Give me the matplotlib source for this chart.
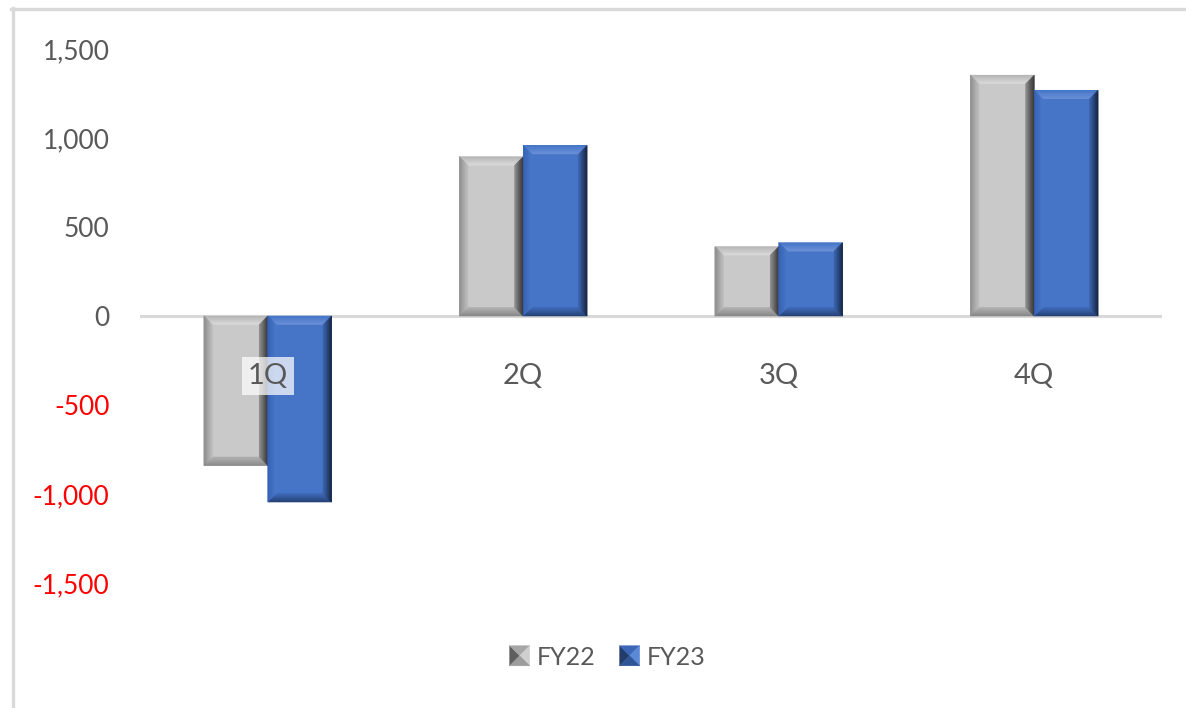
import matplotlib
matplotlib.use("Agg")
import matplotlib.pyplot as plt
from matplotlib.patches import Polygon
from matplotlib.transforms import IdentityTransform
from matplotlib.legend_handler import HandlerBase
from matplotlib.lines import Line2D
import numpy as np
from matplotlib.colors import to_rgb

# ---- data ----
quarters = ["1Q", "2Q", "3Q", "4Q"]
fy22 = [-840, 895, 390, 1353]
fy23 = [-1045, 958, 412, 1268]
series_names = ["FY22", "FY23"]
y_ticks = [-1500, -1000, -500, 0, 500, 1000, 1500]

# ---- styles ----
plt.rcParams["font.family"] = ["Lato", "DejaVu Sans"]
TEXT = "#595959"
NEG = "#ff0000"

# bevel colours per side: (outer, inner)
GRAY = {
    "face": "#c9c9c9",
    "top": ("#b4b4b4", "#dadada"),
    "left": ("#8a8a8a", "#bebebe"),
    "right": ("#2c2c2c", "#8c8c8c"),
    "bottom": ("#858585", "#b0b0b0"),
}
BLUE = {
    "face": "#4674c6",
    "top": ("#4475c8", "#6b91d8"),
    "left": ("#3461b3", "#4a78c9"),
    "right": ("#14213b", "#3a63ad"),
    "bottom": ("#243f72", "#3e69b8"),
}

W, H, DPI = 11.86, 7.08, 100
fig = plt.figure(figsize=(W, H), dpi=DPI)
fig.patch.set_facecolor("white")

# plot area in pixel terms
px_left, px_right, px_top, px_bottom = 140, 1162, 49, 583
ax = fig.add_axes([px_left / 1186, 1 - px_bottom / 708,
                   (px_right - px_left) / 1186, (px_bottom - px_top) / 708])
ax.set_xlim(-0.5, len(quarters) - 0.5)
ax.set_ylim(-1500, 1500)
for s in ax.spines.values():
    s.set_visible(False)
ax.set_xticks([])
ax.set_yticks(y_ticks)
ax.set_yticklabels([f"{v:,}" for v in y_ticks])
for lab, v in zip(ax.get_yticklabels(), y_ticks):
    lab.set_color(NEG if v < 0 else TEXT)
    lab.set_fontsize(19)
ax.tick_params(axis="y", length=0, pad=22)
ax.axhline(0, color="#d9d9d9", lw=2.2, zorder=1)

x = np.arange(len(quarters))
bw = 0.25
bars22 = ax.bar(x - bw / 2, fy22, width=bw, color=GRAY["face"], zorder=2, linewidth=0)
bars23 = ax.bar(x + bw / 2, fy23, width=bw, color=BLUE["face"], zorder=2, linewidth=0)


def mix(c1, c2, t):
    a, b = np.array(to_rgb(c1)), np.array(to_rgb(c2))
    return tuple(a + (b - a) * t)


def bevel(bar, scheme, depth=8.5, steps=8):
    """Overlay a soft bevel on a bar, drawn in display pixels."""
    bx, by, bwid, bh = bar.get_x(), bar.get_y(), bar.get_width(), bar.get_height()
    (x0, y0) = ax.transData.transform((bx, min(by, by + bh)))
    (x1, y1) = ax.transData.transform((bx + bwid, max(by, by + bh)))
    d = min(depth, (y1 - y0) / 2.2)
    for k in range(steps):
        a = k * d / steps
        a2 = (k + 1) * d / steps
        t = (k + 0.5) / steps
        sides = {
            "top": [(x0 + a, y1 - a), (x1 - a, y1 - a), (x1 - a2, y1 - a2), (x0 + a2, y1 - a2)],
            "bottom": [(x0 + a, y0 + a), (x1 - a, y0 + a), (x1 - a2, y0 + a2), (x0 + a2, y0 + a2)],
            "left": [(x0 + a, y0 + a), (x0 + a, y1 - a), (x0 + a2, y1 - a2), (x0 + a2, y0 + a2)],
            "right": [(x1 - a, y0 + a), (x1 - a, y1 - a), (x1 - a2, y1 - a2), (x1 - a2, y0 + a2)],
        }
        for name, pts in sides.items():
            col = mix(*scheme[name], t)
            ax.add_artist(Polygon(pts, closed=True, facecolor=col, edgecolor=col,
                                  lw=0.4, transform=IdentityTransform(), zorder=3))


for b in bars22:
    bevel(b, GRAY)
for b in bars23:
    bevel(b, BLUE)

# category labels next to the zero line
for i, q in enumerate(quarters):
    ax.annotate(q, xy=(i, 0), xytext=(0, -43), textcoords="offset points",
                ha="center", va="center", fontsize=21, color=TEXT, zorder=5,
                bbox=dict(boxstyle="square,pad=0.2", fc="white", ec="none", alpha=0.72))


# legend with bevelled keys
class BevelKey:
    def __init__(self, colors):
        self.colors = colors


class BevelKeyHandler(HandlerBase):
    def create_artists(self, legend, orig_handle, xdescent, ydescent,
                       width, height, fontsize, trans):
        side = height * 1.15
        cx = -xdescent + width / 2
        cy = -ydescent + height / 2
        h = side / 2
        l, r, b, t = cx - h, cx + h, cy - h, cy + h
        c = orig_handle.colors
        tris = [
            ([(l, b), (l, t), (cx, cy)], c[0]),
            ([(l, t), (r, t), (cx, cy)], c[1]),
            ([(r, t), (r, b), (cx, cy)], c[2]),
            ([(r, b), (l, b), (cx, cy)], c[3]),
        ]
        return [Polygon(p, closed=True, fc=col, ec=col, lw=0.3, transform=trans)
                for p, col in tris]


keys = [BevelKey(["#5e5e5e", "#a6a6a6", "#cfcfcf", "#9c9c9c"]),
        BevelKey(["#223c6b", "#3b67b6", "#5a89d8", "#2f5597"])]
leg = fig.legend(keys, series_names, loc="center", bbox_to_anchor=(0.513, 0.072),
                 ncol=2, frameon=False, fontsize=18, labelcolor=TEXT,
                 handler_map={BevelKey: BevelKeyHandler()},
                 handlelength=0.7, handleheight=0.7, handletextpad=0.35,
                 columnspacing=1.0)

# chart-area border (left and top edges)
fig.add_artist(Line2D([12.5 / 1186, 12.5 / 1186], [0, 1 - 7.5 / 708],
                      transform=fig.transFigure, color="#d9d9d9", lw=2.4))
fig.add_artist(Line2D([11 / 1186, 1], [1 - 8.5 / 708, 1 - 8.5 / 708],
                      transform=fig.transFigure, color="#d9d9d9", lw=2.4))

fig.savefig("out.png", dpi=DPI, facecolor="white")
